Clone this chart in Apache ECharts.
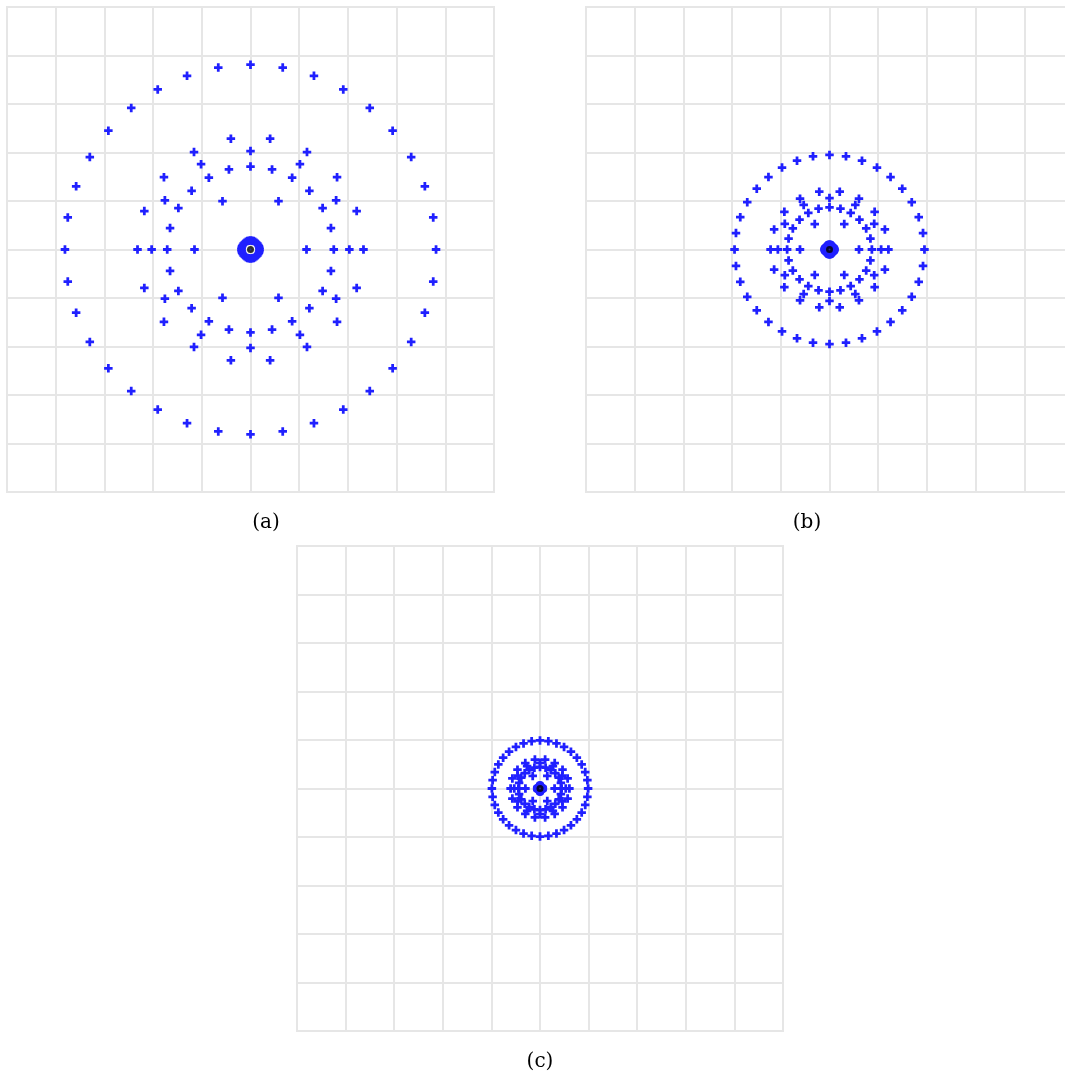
<!DOCTYPE html>
<html>
<head>
<meta charset="utf-8">
<script src="https://cdn.jsdelivr.net/npm/echarts/dist/echarts.min.js"></script>
<style>
  html, body { margin: 0; padding: 0; background: #ffffff; overflow: hidden; }
  #main { width: 1080px; height: 1080px; }
</style>
</head>
<body>
<div id="main"></div>
<script>
// Panel captions
const panelNames = ['(a)', '(b)', '(c)'];

// Axis extent shared by all panels (one grid cell per unit)
const axisMin = -5;
const axisMax = 5;
const axisStep = 1;

// Angular positions (degrees, clockwise from the top) of the points on each ring
const coreAngles  = [0, 10, 20, 30, 40, 50, 60, 70, 80, 90, 100, 110, 120, 130, 140, 150, 160, 170,
                     180, 190, 200, 210, 220, 230, 240, 250, 260, 270, 280, 290, 300, 310, 320, 330, 340, 350];
const ring1Angles = [30, 90, 150, 210, 270, 330];
const ring2Angles = [0, 15, 30, 45, 60, 75, 90, 105, 120, 135, 150, 165,
                     180, 195, 210, 225, 240, 255, 270, 285, 300, 315, 330, 345];
const ring3Angles = [0, 30, 60, 90, 120, 150, 180, 210, 240, 270, 300, 330];
const ring4Angles = [10, 30, 50, 70, 90, 110, 130, 150, 170, 190, 210, 230, 250, 270, 290, 310, 330, 350];
const outerAngles = [0, 10, 20, 30, 40, 50, 60, 70, 80, 90, 100, 110, 120, 130, 140, 150, 160, 170,
                     180, 190, 200, 210, 220, 230, 240, 250, 260, 270, 280, 290, 300, 310, 320, 330, 340, 350];

// Ring radii per panel: core, ring1, ring2, ring3, ring4, outer
const radiiA = [0.185, 1.15, 1.71, 2.03, 2.32, 3.81];
const radiiB = [0.10, 0.606, 0.87, 1.06, 1.21, 1.95];
const radiiC = [0.058, 0.30, 0.445, 0.53, 0.605, 0.99];

// Centre point of every panel
const centrePoint = [0, 0];

const ringAngles = [coreAngles, ring1Angles, ring2Angles, ring3Angles, ring4Angles, outerAngles];
const panelRadii = [radiiA, radiiB, radiiC];

// Plot boxes of the three panels; the right-hand one runs past the page edge
const boxes = [
  { left: 7,   top: 7,   width: 487, height: 485 },
  { left: 586, top: 7,   width: 487, height: 485 },
  { left: 297, top: 546, width: 486, height: 485 }
];
const captionPos = [[266, 523], [807, 523], [540, 1062]];

const gridColor = '#e6e6e6';
const markColor = '#2020ff';
const crossPath = 'path://M2.7,0H5.3V2.7H8V5.3H5.3V8H2.7V5.3H0V2.7H2.7Z';

function ringPoints(radii) {
  const pts = [];
  ringAngles.forEach((angles, i) => {
    const r = radii[i];
    angles.forEach(a => {
      const t = a * Math.PI / 180;
      pts.push([r * Math.sin(t), r * Math.cos(t)]);
    });
  });
  return pts;
}

const grid = [], xAxis = [], yAxis = [], series = [];
boxes.forEach((b, i) => {
  grid.push(Object.assign({ show: true, borderColor: gridColor, borderWidth: 2, backgroundColor: '#ffffff' }, b));
  const axisCommon = {
    type: 'value', gridIndex: i, min: axisMin, max: axisMax, interval: axisStep,
    axisLine: { show: false }, axisTick: { show: false }, axisLabel: { show: false },
    splitLine: { show: true, lineStyle: { color: gridColor, width: 2 } }
  };
  xAxis.push(Object.assign({}, axisCommon));
  yAxis.push(Object.assign({}, axisCommon));
  series.push({
    type: 'scatter', xAxisIndex: i, yAxisIndex: i,
    symbol: crossPath, symbolSize: 8.5,
    itemStyle: { color: markColor, opacity: 1 },
    data: ringPoints(panelRadii[i]),
    silent: true, z: 2
  });
  series.push({
    type: 'scatter', xAxisIndex: i, yAxisIndex: i,
    symbol: 'circle', symbolSize: 7,
    itemStyle: { color: '#000000' },
    data: [centrePoint], silent: true, z: 3
  });
  series.push({
    type: 'scatter', xAxisIndex: i, yAxisIndex: i,
    symbol: 'circle', symbolSize: 2,
    itemStyle: { color: '#3030a0' },
    data: [centrePoint], silent: true, z: 4
  });
});

const graphic = panelNames.map((name, i) => ({
  type: 'text',
  x: captionPos[i][0], y: captionPos[i][1],
  style: {
    text: name, font: '20px "DejaVu Serif", serif', fill: '#000000',
    align: 'center', verticalAlign: 'middle',
    textAlign: 'center', textVerticalAlign: 'middle'
  }
}));

const chart = echarts.init(document.getElementById('main'), null, { renderer: 'canvas' });
chart.setOption({
  animation: false,
  backgroundColor: '#ffffff',
  grid, xAxis, yAxis, series, graphic
});
</script>
</body>
</html>
